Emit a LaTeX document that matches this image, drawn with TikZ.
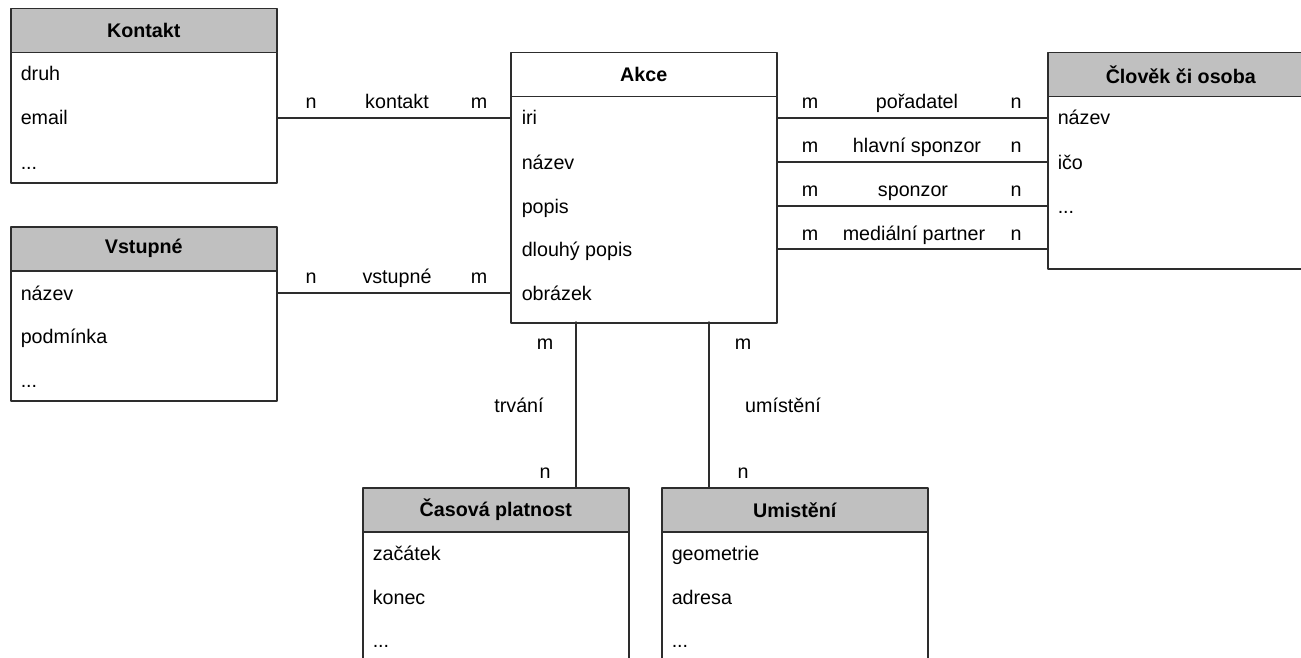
\documentclass[tikz,border=0pt]{standalone}
\usepackage{fontspec}
\setmainfont{Liberation Sans}
\usetikzlibrary{positioning}
\definecolor{hdrgray}{RGB}{192,192,192}
\definecolor{edgegray}{RGB}{45,45,45}

\begin{document}
\begin{tikzpicture}[x=1pt,y=-1pt, line cap=round, line join=round, line width=1.5pt,
    font=\fontsize{19.7}{23}\selectfont,
    hdr/.style={draw=edgegray, fill=hdrgray, minimum width=266pt, minimum height=44pt, inner sep=0pt, anchor=north west, font=\fontsize{19.7}{23}\selectfont\bfseries},
    body/.style={draw=edgegray, fill=white, minimum width=266pt, inner sep=0pt, anchor=north west},
    attr/.style={anchor=west, inner sep=0pt, text height=17pt, text depth=3pt},
    lbl/.style={inner sep=0pt, text height=17pt, text depth=3pt},
    rel/.style={draw=edgegray}]
    \useasboundingbox (0,0) rectangle (1301,658);
    \clip (0,0) rectangle (1301,658);

    % Kontakt
    \node[body, minimum height=130pt] (kontaktB) at (10,52) {};
    \node[hdr] (kontaktH) at (10,8) {Kontakt};
    \node[attr] (kontaktDruh) at (20,74) {druh};
    \node[attr] (kontaktEmail) at (20,118) {email};
    \node[attr] (kontaktDots) at (20,162) {...};

    % Vstupne
    \node[body, minimum height=130pt] (vstupneB) at (10,270) {};
    \node[hdr] (vstupneH) at (10,226) {Vstupné};
    \node[attr] (vstupneNazev) at (20,293) {název};
    \node[attr] (vstupnePodm) at (20,336) {podmínka};
    \node[attr] (vstupneDots) at (20,380) {...};

    % Akce
    \node[body, minimum height=226pt] (akceB) at (510,96) {};
    \node[hdr, fill=white] (akceH) at (510,52) {Akce};
    \node[attr] (akceIri) at (521,118) {iri};
    \node[attr] (akceNazev) at (521,162) {název};
    \node[attr] (akcePopis) at (521,206) {popis};
    \node[attr] (akceDlouhy) at (521,249) {dlouhý popis};
    \node[attr] (akceObr) at (521,293) {obrázek};

    % Clovek ci osoba
    \node[body, minimum height=172pt] (clovekB) at (1047,96) {};
    \node[hdr] (clovekH) at (1047,52) {Člověk či osoba};
    \node[attr] (clovekNazev) at (1057,118) {název};
    \node[attr] (clovekIco) at (1057,162) {ičo};
    \node[attr] (clovekDots) at (1057,206) {...};

    % Casova platnost
    \node[body, minimum height=180pt] (casB) at (362,531) {};
    \node[hdr] (casH) at (362,487) {Časová platnost};
    \node[attr] (casZac) at (372,553) {začátek};
    \node[attr] (casKon) at (372,597) {konec};
    \node[attr] (casDots) at (372,640) {...};

    % Umisteni
    \node[body, minimum height=180pt] (umB) at (661,531) {};
    \node[hdr] (umH) at (661,487) {Umistění};
    \node[attr] (umGeo) at (671,553) {geometrie};
    \node[attr] (umAdr) at (671,597) {adresa};
    \node[attr] (umDots) at (671,640) {...};

    % vazby vlevo
    \draw[rel] (kontaktB.east |- akceIri) -- (akceB.west |- akceIri);
    \node[lbl] (kontaktN) at (311,102) {n};
    \node[lbl] (kontaktL) at (397,102) {kontakt};
    \node[lbl] (kontaktM) at (479,102) {m};

    \draw[rel] (vstupneB.east |- akceObr) -- (akceB.west |- akceObr);
    \node[lbl] (vstupneN) at (311,276) {n};
    \node[lbl] (vstupneL) at (397,276) {vstupné};
    \node[lbl] (vstupneM) at (479,276) {m};

    % vazby vpravo
    \draw[rel] (akceB.east |- akceIri) -- (clovekB.west |- akceIri);
    \node[lbl] (poradM) at (810,102) {m};
    \node[lbl] (poradL) at (917,102) {pořadatel};
    \node[lbl] (poradN) at (1016,102) {n};

    \draw[rel] (akceB.east |- akceNazev) -- (clovekB.west |- akceNazev);
    \node[lbl] (hlavniM) at (810,146) {m};
    \node[lbl] (hlavniL) at (917,146) {hlavní sponzor};
    \node[lbl] (hlavniN) at (1016,146) {n};

    \draw[rel] (akceB.east |- akcePopis) -- (clovekB.west |- akcePopis);
    \node[lbl] (sponzorM) at (810,189) {m};
    \node[lbl] (sponzorL) at (913,189) {sponzor};
    \node[lbl] (sponzorN) at (1016,189) {n};

    \draw[rel] (akceB.east |- akceDlouhy) -- (clovekB.west |- akceDlouhy);
    \node[lbl] (medM) at (810,233) {m};
    \node[lbl] (medL) at (914,233) {mediální partner};
    \node[lbl] (medN) at (1016,233) {n};

    % vazby dolu
    \coordinate (trvaniTop) at (576,322);
    \coordinate (umistTop) at (709,322);
    \draw[rel] (trvaniTop) -- (trvaniTop |- casH.north);
    \node[lbl] (trvaniM) at (545,342) {m};
    \node[lbl] (trvaniL) at (519,405) {trvání};
    \node[lbl] (trvaniN) at (545,471) {n};

    \draw[rel] (umistTop) -- (umistTop |- umH.north);
    \node[lbl] (umistM) at (743,342) {m};
    \node[lbl] (umistL) at (783,405) {umístění};
    \node[lbl] (umistN) at (743,471) {n};
\end{tikzpicture}
\end{document}
